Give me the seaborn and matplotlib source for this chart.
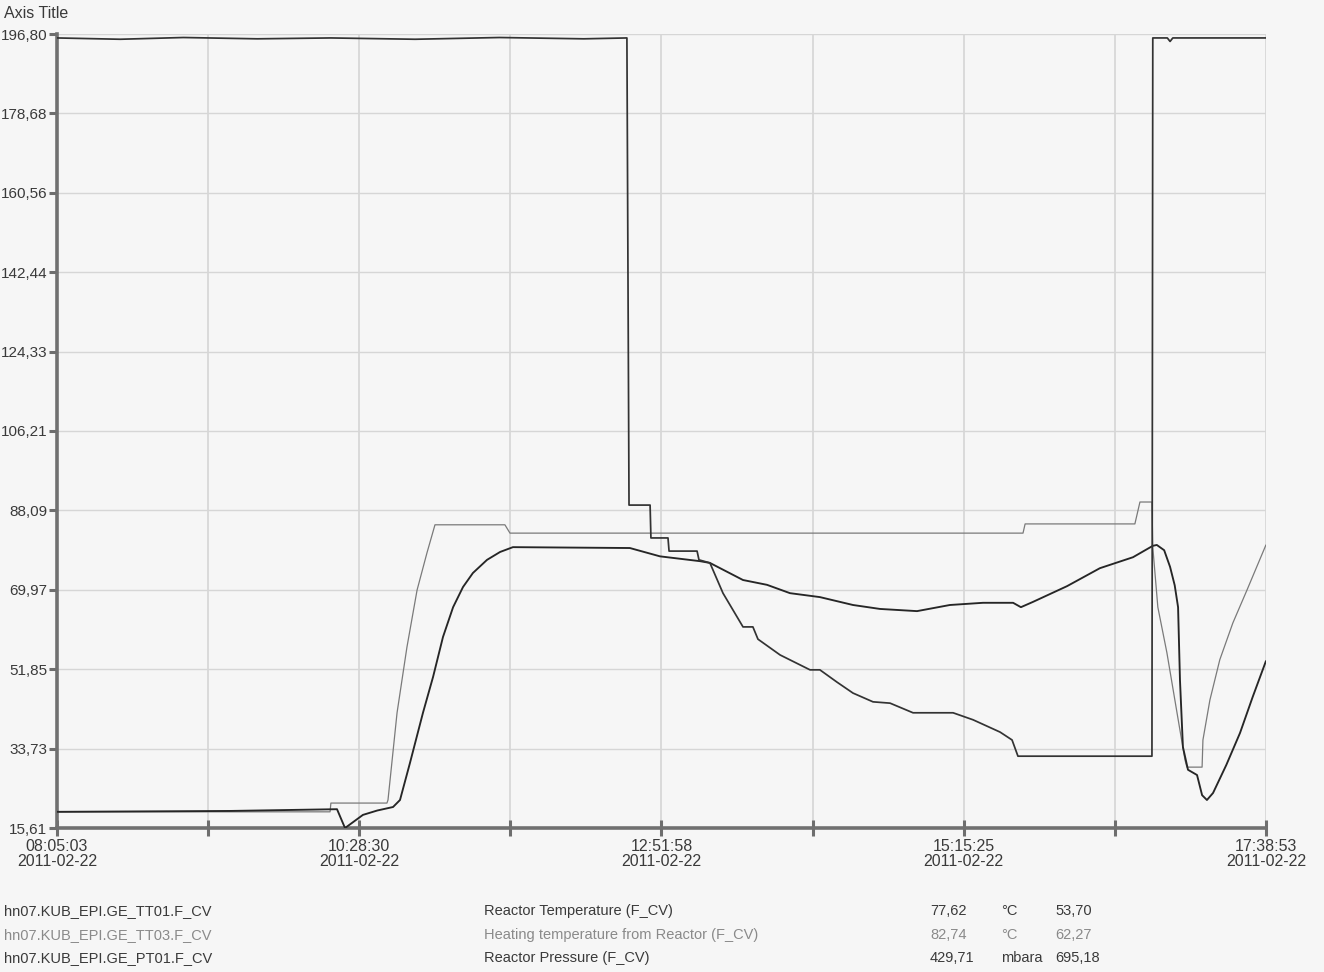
import matplotlib
matplotlib.use("Agg")
import matplotlib.pyplot as plt
import pandas as pd
import seaborn as sns

# ---- data (time in minutes after 08:05:03) ----
pressure_t = [0, 30, 60, 95, 130, 170, 210, 250, 270.5, 271.5, 281.5, 281.9, 290.0, 290.5,
              303.8, 304.7, 309.9, 316.1, 325.6, 330.3, 332.7, 343.2, 357.4, 362.1,
              370.2, 377.8, 387.3, 395.4, 406.3, 425.3, 434.8, 447.6, 453.3, 456.1,
              519.7, 520.1, 527.0, 528.3, 529.6, 573.8]
pressure_v = [195.9, 195.6, 196.0, 195.7, 195.9, 195.6, 196.0, 195.7, 195.9, 89.3, 89.3,
              81.8, 81.8, 78.8, 78.8, 76.8, 76.1, 69.2, 61.5, 61.5, 58.7, 55.1, 51.7,
              51.7, 48.9, 46.4, 44.4, 44.1, 41.9, 41.9, 40.3, 37.5, 35.7, 32.0,
              32.0, 195.9, 195.9, 195.1, 195.9, 195.9]

reactor_t = [0, 82.1, 132.9, 136.7, 145.2, 152.0, 159.5, 162.8, 167.5, 173.7, 178.5, 183.2,
             188.0, 192.7, 197.4, 204.1, 210.3, 216.4, 271.9, 286.2, 305.2, 309.9,
             325.6, 337.0, 347.9, 362.1, 377.8, 390.6, 408.2, 423.8, 439.5, 453.8,
             457.5, 463.2, 479.4, 495.0, 510.7, 520.1, 522.0, 525.5, 528.3, 530.5, 532.1,
             533.0, 534.4, 536.8, 541.1, 543.5, 545.8, 548.7, 555.0, 561.5, 567.5, 573.8]
reactor_v = [19.3, 19.5, 19.9, 15.6, 18.6, 19.6, 20.4, 22.0, 30.4, 41.9, 50.1, 59.2,
             66.0, 70.6, 73.8, 76.8, 78.6, 79.7, 79.5, 77.6, 76.5, 76.1,
             72.2, 71.1, 69.2, 68.3, 66.5, 65.6, 65.1, 66.5, 67.0, 67.0,
             66.0, 67.2, 70.8, 74.9, 77.4, 80.0, 80.2, 79.0, 75.2, 71.0, 66.0,
             49.4, 34.1, 28.9, 27.7, 23.1, 22.0, 23.6, 30.0, 37.3, 45.5, 53.7]

heating_t = [0, 129.6, 130.0, 156.6, 157.1, 161.4, 166.1, 170.9, 175.6, 179.4, 212.6,
             215.0, 458.5, 459.5, 511.6, 514.0, 519.7, 520.1, 522.5, 526.8, 531.6,
             535.4, 536.3, 543.5, 543.9, 547.2, 551.9, 558.1, 564.8, 573.8]
heating_v = [19.3, 19.3, 21.3, 21.3, 22.0, 41.9, 56.9, 69.9, 78.4, 84.8, 84.8,
             82.9, 82.9, 85.0, 85.0, 90.0, 90.0, 79.7, 66.0, 55.6, 41.9,
             31.1, 29.5, 29.5, 35.7, 44.8, 54.0, 62.4, 69.9, 80.2]

y_ticks = [15.61, 33.73, 51.85, 69.97, 88.09, 106.21, 124.33, 142.44, 160.56, 178.68, 196.80]
x_tick_times = ["08:05:03", "10:28:30", "12:51:58", "15:15:25", "17:38:53"]
x_tick_date = "2011-02-22"

tags = ["hn07.KUB_EPI.GE_TT01.F_CV", "hn07.KUB_EPI.GE_TT03.F_CV", "hn07.KUB_EPI.GE_PT01.F_CV"]
names = ["Reactor Temperature (F_CV)", "Heating temperature from Reactor (F_CV)", "Reactor Pressure (F_CV)"]
vals_a = ["77,62", "82,74", "429,71"]
units = ["°C", "°C", "mbara"]
vals_b = ["53,70", "62,27", "695,18"]

# ---- styling ----
W, H = 1324, 972
bg = "#f6f6f6"
sns.set_theme(style="white")
plt.rcParams["font.family"] = ["Liberation Sans", "DejaVu Sans"]

fig = plt.figure(figsize=(W / 100, H / 100), dpi=100, facecolor=bg)
ax = fig.add_axes([57 / W, 1 - 828 / H, (1266 - 57) / W, (828 - 34) / H])
ax.set_facecolor(bg)


def minutes(hms):
    h, m, s = (int(p) for p in hms.split(":"))
    return h * 60 + m + s / 60.0


t0 = minutes(x_tick_times[0])
major_x = [minutes(t) - t0 for t in x_tick_times]
minor_x = [(a + b) / 2 for a, b in zip(major_x[:-1], major_x[1:])]

# grid
for xv in major_x + minor_x:
    ax.axvline(xv, color="#d2d2d2", lw=1.1, zorder=0)
for yv in y_ticks:
    ax.axhline(yv, color="#d6d6d6", lw=1.0, zorder=0)

series = [
    (heating_t, heating_v, "#7a7a7a", 0.9),
    (reactor_t, reactor_v, "#262626", 1.35),
    (pressure_t, pressure_v, "#333333", 1.25),
]
for t, v, c, lw in series:
    df = pd.DataFrame({"t": t, "v": v})
    sns.lineplot(data=df, x="t", y="v", ax=ax, color=c, lw=lw, estimator=None,
                 sort=False, zorder=3)

ax.set_xlim(major_x[0], major_x[-1])
ax.set_ylim(y_ticks[0], y_ticks[-1])
ax.set_xlabel("")
ax.set_ylabel("")

ax.set_yticks(y_ticks)
ax.set_yticklabels([f"{v:.2f}".replace(".", ",") for v in y_ticks])
ax.set_xticks(major_x)
ax.set_xticklabels([f"{t}\n{x_tick_date}" for t in x_tick_times], linespacing=0.95)
ax.set_xticks(minor_x, minor=True)

ax.tick_params(axis="y", direction="out", length=6, width=2.2, color="#6e6e6e",
               pad=1, labelsize=11, labelcolor="#3a3a3a", left=True)
ax.tick_params(axis="x", which="both", direction="inout", length=12, width=2.2,
               color="#6e6e6e", pad=2, labelsize=11.5, labelcolor="#3a3a3a", bottom=True)

for side in ["top", "right"]:
    ax.spines[side].set_visible(False)
for side in ["left", "bottom"]:
    ax.spines[side].set_color("#707070")
    ax.spines[side].set_linewidth(2.6)

fig.text(4 / W, 1 - 14 / H, "Axis Title", ha="left", va="center",
         fontsize=11.5, color="#3a3a3a")

# legend table below the chart
row_y = [911, 935, 958]
row_col = ["#3a3a3a", "#8a8a8a", "#3a3a3a"]
for i in range(3):
    yy = 1 - row_y[i] / H
    fig.text(4 / W, yy, tags[i], ha="left", va="center", fontsize=10.5, color=row_col[i])
    fig.text(484 / W, yy, names[i], ha="left", va="center", fontsize=10.5, color=row_col[i])
    fig.text(930 / W, yy, vals_a[i], ha="left", va="center", fontsize=10.5, color=row_col[i])
    fig.text(1001 / W, yy, units[i], ha="left", va="center", fontsize=10.5, color=row_col[i])
    fig.text(1055 / W, yy, vals_b[i], ha="left", va="center", fontsize=10.5, color=row_col[i])

fig.savefig("out.png", dpi=100, facecolor=bg)
